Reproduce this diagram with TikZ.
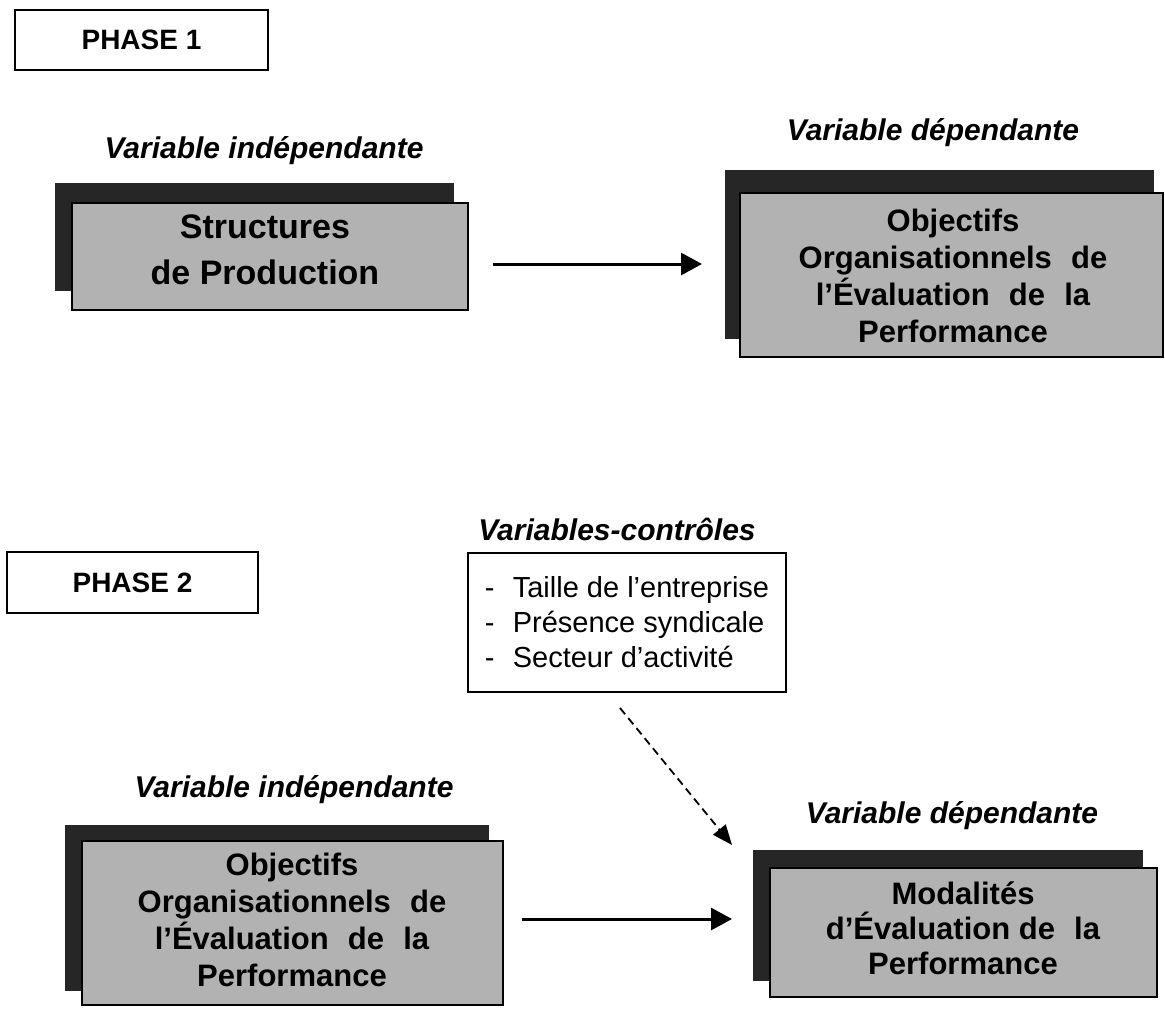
\documentclass[tikz,border=0pt]{standalone}
\usepackage{fontspec}
\setmainfont{Liberation Sans}
\usetikzlibrary{arrows.meta}
\definecolor{frontgray}{RGB}{178,178,178}
\definecolor{shadowgray}{RGB}{38,38,38}
\newcommand\jsp{\hspace{0.62em}}
\begin{document}
\begin{tikzpicture}[x=1pt,y=-1pt,
  phasebox/.style={draw, line width=2pt, inner sep=0pt, font=\bfseries\fontsize{28}{32}\selectfont},
  shadowbox/.style={fill=shadowgray, draw=shadowgray, line width=1pt, inner sep=0pt},
  frontbox/.style={fill=frontgray, draw=black, line width=2pt, inner sep=0pt},
  boxtext/.style={inner sep=0pt, align=center, font=\bfseries\fontsize{31}{37}\selectfont},
  varlabel/.style={anchor=base, inner sep=0pt, font=\bfseries\itshape\fontsize{30}{36}\selectfont},
  ctrlbox/.style={draw, line width=1.5pt, inner sep=0pt, align=left,
                  font=\fontsize{29}{35}\selectfont},
  mainarrow/.style={line width=3pt, -{Triangle[length=21pt,width=22pt]}},
  dasharrow/.style={line width=1.8pt, dash pattern=on 8pt off 5pt, -{Triangle[length=20pt,width=16pt]}}
]
\useasboundingbox (0,0) rectangle (1165,1009);

% ---------- PHASE 1 ----------
\node[phasebox, minimum width=253pt, minimum height=60pt] (p1) at (141.5,40) {PHASE 1};

\node[varlabel] (l1a) at (264,158) {Variable indépendante};
\node[varlabel] (l1b) at (933,140) {Variable dépendante};

\node[shadowbox, minimum width=398pt, minimum height=107pt] (s1a) at (254,236.5) {};
\node[frontbox, minimum width=396pt, minimum height=107pt] (b1a) at (270,256.5) {};
\node[boxtext, font=\bfseries\fontsize{34}{46}\selectfont] (t1a) at (265,250) {Structures\\de Production};

\node[shadowbox, minimum width=428pt, minimum height=168pt] (s1b) at (939,254) {};
\node[frontbox, minimum width=423pt, minimum height=164pt] (b1b) at (951.5,275) {};
\node[boxtext] (t1b) at (953,276)
  {Objectifs\\Organisationnels\jsp de\\l’Évaluation\jsp de\jsp la\\Performance};

\coordinate (a1s) at (493,264);
\coordinate (a1e) at (702,264);
\draw[mainarrow] (a1s) -- (a1e);

% ---------- PHASE 2 ----------
\node[phasebox, minimum width=251pt, minimum height=61pt] (p2) at (132.5,582.5) {PHASE 2};

\node[varlabel] (lc) at (617,540) {Variables-contrôles};
\node[ctrlbox, minimum width=318pt, minimum height=139pt] (ctrl) at (627,622.5)
  {\makebox[28pt][l]{-}Taille de l’entreprise\\
   \makebox[28pt][l]{-}Présence syndicale\\
   \makebox[28pt][l]{-}Secteur d’activité};

\node[varlabel] (l2a) at (294,797) {Variable indépendante};
\node[varlabel] (l2b) at (952,823) {Variable dépendante};

\node[shadowbox, minimum width=423pt, minimum height=165pt] (s2a) at (276.5,907.5) {};
\node[frontbox, minimum width=421pt, minimum height=164pt] (b2a) at (292.5,922.5) {};
\node[boxtext, font=\bfseries\fontsize{31}{37}\selectfont] (t2a) at (292,920)
  {Objectifs\\Organisationnels\jsp de\\l’Évaluation\jsp de\jsp la\\Performance};

\node[shadowbox, minimum width=389pt, minimum height=130pt] (s2b) at (947.5,915) {};
\node[frontbox, minimum width=387pt, minimum height=129pt] (b2b) at (963.5,932.5) {};
\node[boxtext, font=\bfseries\fontsize{31}{35}\selectfont] (t2b) at (963,928)
  {Modalités\\d’Évaluation de\jsp la\\Performance};

\coordinate (a2s) at (522,919);
\coordinate (a2e) at (732,919);
\draw[mainarrow] (a2s) -- (a2e);

\coordinate (ds) at (620,708);
\coordinate (de) at (732,845);
\draw[dasharrow] (ds) -- (de);
\end{tikzpicture}
\end{document}
